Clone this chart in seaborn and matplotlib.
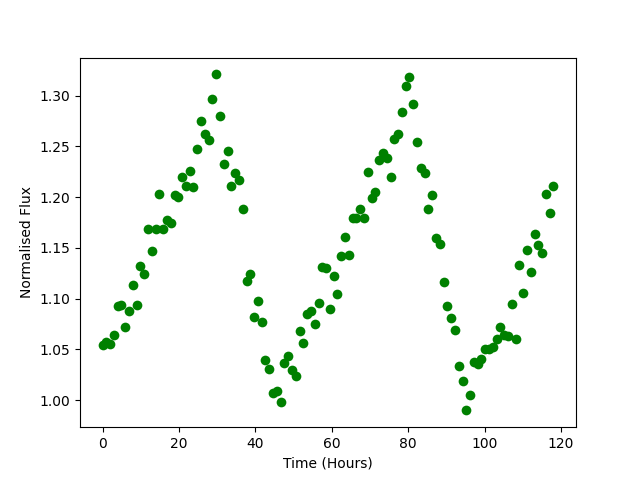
import numpy as np
import pandas as pd
import matplotlib
matplotlib.use("Agg")
import matplotlib.pyplot as plt
import seaborn as sns

# Observation times (hours)
time_hours = [
    0.00, 0.99, 1.98, 2.97, 3.97, 4.96, 5.95, 6.94, 7.93, 8.92,
    9.92, 10.91, 11.90, 12.89, 13.88, 14.87, 15.87, 16.86, 17.85, 18.84,
    19.83, 20.82, 21.82, 22.81, 23.80, 24.79, 25.78, 26.77, 27.76, 28.76,
    29.75, 30.74, 31.73, 32.72, 33.71, 34.71, 35.70, 36.69, 37.68, 38.67,
    39.66, 40.66, 41.65, 42.64, 43.63, 44.62, 45.61, 46.61, 47.60, 48.59,
    49.58, 50.57, 51.56, 52.55, 53.55, 54.54, 55.53, 56.52, 57.51, 58.50,
    59.50, 60.49, 61.48, 62.47, 63.46, 64.45, 65.45, 66.44, 67.43, 68.42,
    69.41, 70.40, 71.40, 72.39, 73.38, 74.37, 75.36, 76.35, 77.34, 78.34,
    79.33, 80.32, 81.31, 82.30, 83.29, 84.29, 85.28, 86.27, 87.26, 88.25,
    89.24, 90.24, 91.23, 92.22, 93.21, 94.20, 95.19, 96.19, 97.18, 98.17,
    99.16, 100.15, 101.14, 102.13, 103.13, 104.12, 105.11, 106.10, 107.09, 108.08,
    109.08, 110.07, 111.06, 112.05, 113.04, 114.03, 115.03, 116.02, 117.01, 118.00,
]

# Normalised flux values
flux = [
    1.054, 1.057, 1.055, 1.064, 1.093, 1.094, 1.072, 1.088, 1.114, 1.094,
    1.132, 1.124, 1.169, 1.147, 1.169, 1.203, 1.169, 1.178, 1.175, 1.202,
    1.200, 1.220, 1.211, 1.226, 1.210, 1.248, 1.275, 1.262, 1.256, 1.297,
    1.321, 1.280, 1.233, 1.246, 1.211, 1.224, 1.217, 1.188, 1.117, 1.124,
    1.082, 1.098, 1.077, 1.040, 1.031, 1.007, 1.009, 0.998, 1.037, 1.044,
    1.030, 1.024, 1.068, 1.056, 1.085, 1.088, 1.075, 1.096, 1.131, 1.130,
    1.090, 1.122, 1.105, 1.142, 1.161, 1.143, 1.180, 1.180, 1.188, 1.180,
    1.225, 1.199, 1.205, 1.237, 1.244, 1.239, 1.220, 1.257, 1.262, 1.284,
    1.310, 1.318, 1.292, 1.254, 1.229, 1.224, 1.188, 1.202, 1.160, 1.154,
    1.116, 1.093, 1.081, 1.069, 1.034, 1.019, 0.990, 1.005, 1.038, 1.036,
    1.041, 1.050, 1.050, 1.052, 1.060, 1.072, 1.064, 1.063, 1.095, 1.060,
    1.133, 1.106, 1.148, 1.126, 1.164, 1.153, 1.145, 1.203, 1.184, 1.211,
]

df = pd.DataFrame({"time": time_hours, "flux": flux})

fig, ax = plt.subplots(figsize=(6.4, 4.8), dpi=100)
sns.scatterplot(data=df, x="time", y="flux", color="green", s=49,
                linewidth=0, ax=ax)
ax.set_xlabel("Time (Hours)")
ax.set_ylabel("Normalised Flux")
ax.set_yticks([1.00, 1.05, 1.10, 1.15, 1.20, 1.25, 1.30])
ax.set_xticks([0, 20, 40, 60, 80, 100, 120])

fig.savefig("out.png", dpi=100)
